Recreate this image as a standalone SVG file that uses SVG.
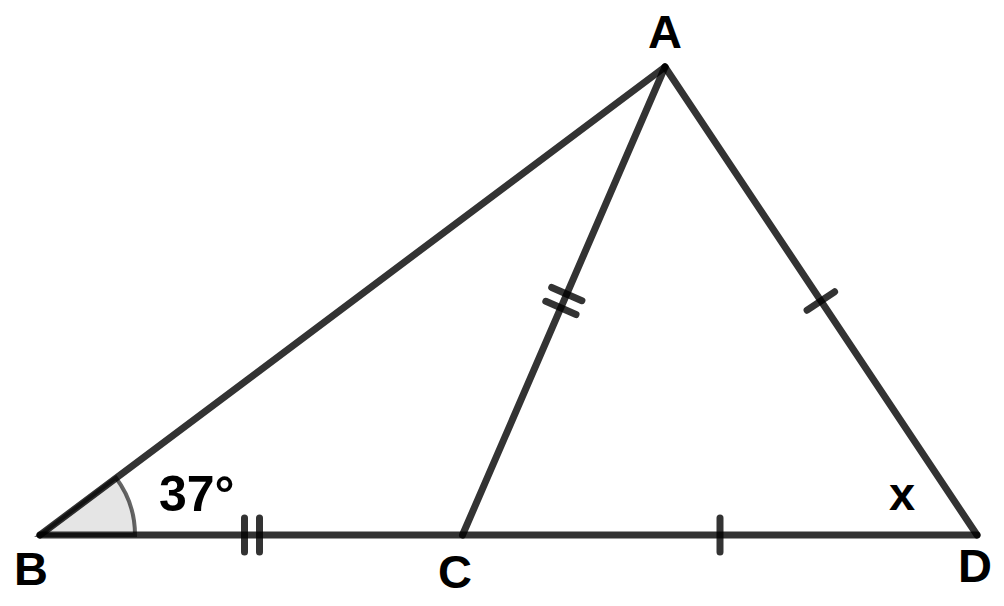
<svg xmlns="http://www.w3.org/2000/svg" width="1004" height="606" viewBox="0 0 1004 606">
<style>
.seg{stroke:#000;stroke-opacity:0.8;stroke-width:7;stroke-linecap:round;fill:none}
.tick{stroke:#000;stroke-opacity:0.8;stroke-width:7;stroke-linecap:round;fill:none}
.lbl{font-family:"Liberation Sans",Arial,sans-serif;font-weight:bold;font-size:47px;fill:#000}
</style>
<rect width="1004" height="606" fill="#fff"/>
<g id="angle-B">
<path d="M40,535 L135,535 A95,95 0 0 0 115.9,477.8 Z" fill="#000" fill-opacity="0.1" stroke="#000" stroke-opacity="0.6" stroke-width="4"/>
</g>
<g id="connectors">
<line class="seg" x1="40" y1="535" x2="665" y2="67"/>
<line class="seg" x1="665" y1="67" x2="462.5" y2="535"/>
<line class="seg" x1="665" y1="67" x2="977" y2="535"/>
<line class="seg" x1="40" y1="535" x2="977" y2="535"/>
</g>
<g id="ticks">
<line class="tick" x1="244.5" y1="518" x2="244.5" y2="552"/>
<line class="tick" x1="259.5" y1="518" x2="259.5" y2="552"/>
<line class="tick" x1="720" y1="518" x2="720" y2="552"/>
<line class="tick" x1="551.7" y1="287.5" x2="581.9" y2="300.7"/>
<line class="tick" x1="545.8" y1="301.3" x2="576.0" y2="314.5"/>
<line class="tick" x1="807.1" y1="310.2" x2="834.6" y2="291.8"/>
</g>
<g id="node-A"><text class="lbl" x="665" y="48" text-anchor="middle">A</text></g>
<g id="node-B"><text class="lbl" x="31" y="585" text-anchor="middle">B</text></g>
<g id="node-C"><text class="lbl" x="455" y="588" text-anchor="middle">C</text></g>
<g id="node-D"><text class="lbl" x="975" y="582" text-anchor="middle">D</text></g>
<g id="label-angle"><text class="lbl" x="159" y="511" style="font-size:50px">37°</text></g>
<g id="label-x"><text class="lbl" x="902" y="510" text-anchor="middle">x</text></g>
</svg>
